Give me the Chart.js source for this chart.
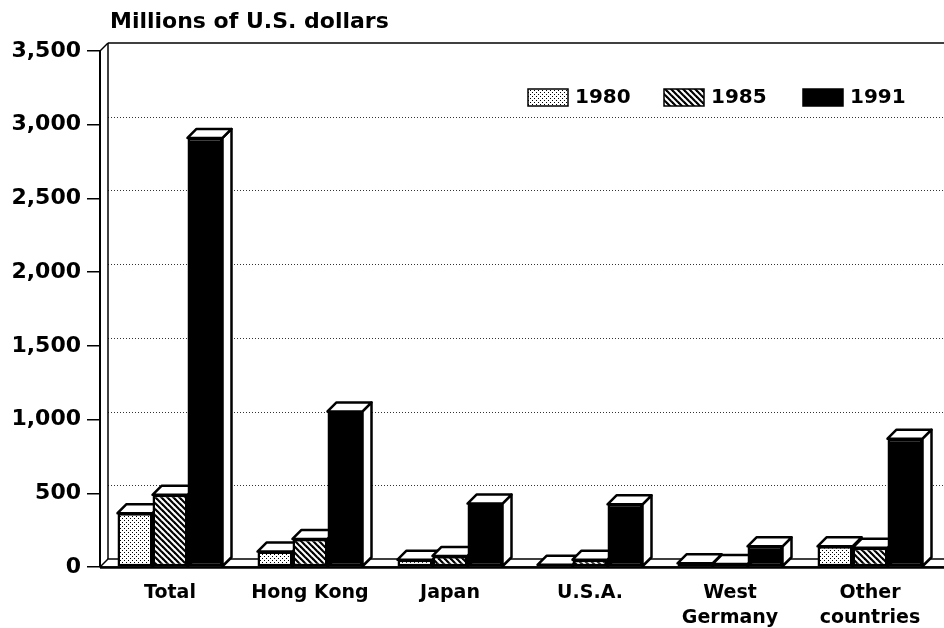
<!DOCTYPE html>
<html>
<head>
<meta charset="utf-8">
<style>
  html, body { margin: 0; padding: 0; background: #fff; }
  #wrap { width: 944px; height: 628px; position: relative; }
</style>
</head>
<body>
<div id="wrap"><canvas id="chart"></canvas></div>
<script src="https://cdn.jsdelivr.net/npm/chart.js@4.4.1/dist/chart.umd.min.js"></script>
<script>
// Data
const categories = ['Total', 'Hong Kong', 'Japan', 'U.S.A.', ['West', 'Germany'], ['Other', 'countries']];
const years = ['1980', '1985', '1991'];
const values1980 = [365, 105, 50, 15, 25, 140];
const values1985 = [490, 190, 75, 50, 20, 130];
const values1991 = [2910, 1055, 430, 425, 140, 870];
const yTicks = [0, 500, 1000, 1500, 2000, 2500, 3000, 3500];

const FONT = 'DejaVu Sans';
const DX = 9, DY = 9;   // bar depth
const WX = 8, WY = 8;   // wall / floor depth

// Fill patterns
function dotPattern() {
  const c = document.createElement('canvas'); c.width = 4; c.height = 4;
  const g = c.getContext('2d');
  g.fillStyle = '#fff'; g.fillRect(0, 0, 4, 4);
  g.fillStyle = '#000'; g.fillRect(0, 0, 1, 1); g.fillRect(2, 2, 1, 1);
  return g.createPattern(c, 'repeat');
}
function hatchPattern() {
  const s = 6;
  const c = document.createElement('canvas'); c.width = s; c.height = s;
  const g = c.getContext('2d');
  g.fillStyle = '#fff'; g.fillRect(0, 0, s, s);
  g.strokeStyle = '#000'; g.lineWidth = 2.2;
  for (let k = -1; k <= 1; k++) {
    g.beginPath(); g.moveTo(-2, -2 + k * s); g.lineTo(s + 2, s + 2 + k * s); g.stroke();
  }
  return g.createPattern(c, 'repeat');
}

const fills = [dotPattern(), hatchPattern(), '#000'];

function poly(ctx, pts, fill, lw) {
  ctx.beginPath();
  ctx.moveTo(pts[0][0], pts[0][1]);
  for (let k = 1; k < pts.length; k++) ctx.lineTo(pts[k][0], pts[k][1]);
  ctx.closePath();
  if (fill) { ctx.fillStyle = fill; ctx.fill(); }
  ctx.lineWidth = lw; ctx.strokeStyle = '#000'; ctx.lineJoin = 'round'; ctx.stroke();
}
function line(ctx, x0, y0, x1, y1) {
  ctx.beginPath(); ctx.moveTo(x0, y0); ctx.lineTo(x1, y1); ctx.stroke();
}

// Walls, floor, back gridlines, bar tops and sides
const threeD = {
  id: 'threeD',
  beforeDatasetsDraw(chart) {
    const { ctx, chartArea: a, scales: { y } } = chart;
    const W = chart.width;
    const top = y.getPixelForValue(yTicks[yTicks.length - 1]);
    const base = y.getPixelForValue(0);
    ctx.save();

    // dotted gridlines on the back wall
    ctx.strokeStyle = '#333'; ctx.lineWidth = 1; ctx.setLineDash([1, 2]);
    yTicks.slice(1, -1).forEach(v => {
      const py = Math.round(y.getPixelForValue(v) - WY) + 0.5;
      line(ctx, a.left + WX, py, W, py);
    });
    ctx.setLineDash([]);

    // back wall top + left wall
    ctx.strokeStyle = '#000'; ctx.lineWidth = 1.5;
    line(ctx, a.left + WX, top - WY, W, top - WY);
    line(ctx, a.left + WX, top - WY, a.left + WX, base - WY);
    line(ctx, a.left, top, a.left + WX, top - WY);
    ctx.lineWidth = 2;
    line(ctx, a.left, top, a.left, base);

    // floor
    poly(ctx, [[a.left, base], [a.left + WX, base - WY], [W + 5, base - WY], [W + 5, base]], '#fff', 1.5);
    ctx.lineWidth = 2.5;
    line(ctx, a.left, base + 0.5, W, base + 0.5);

    // bar tops and sides
    const n = chart.data.datasets.length;
    for (let j = 0; j < categories.length; j++) {
      for (let i = 0; i < n; i++) {
        const bar = chart.getDatasetMeta(i).data[j];
        const { x, y: yt, base: yb, width } = bar.getProps(['x', 'y', 'base', 'width'], true);
        const x0 = x - width / 2, x1 = x + width / 2;
        poly(ctx, [[x1, yt], [x1 + DX, yt - DY], [x1 + DX, yb - DY], [x1, yb]], '#fff', 2.5);
        poly(ctx, [[x0, yt], [x0 + DX, yt - DY], [x1 + DX, yt - DY], [x1, yt]], '#fff', 2.5);
      }
    }
    ctx.restore();
  },
  afterDraw(chart) {
    const { ctx } = chart;
    ctx.save();
    // axis title
    ctx.fillStyle = '#000';
    ctx.font = `bold 22px "${FONT}"`;
    ctx.textBaseline = 'middle';
    ctx.textAlign = 'left';
    ctx.fillText('Millions of U.S. dollars', 110, 22);

    // legend
    const legendX = [528, 664, 803];
    ctx.font = `bold 20px "${FONT}"`;
    chart.data.datasets.forEach((ds, i) => {
      const bx = legendX[i], by = 89;
      ctx.fillStyle = ds.backgroundColor;
      ctx.fillRect(bx, by, 40, 17);
      ctx.lineWidth = 1.5; ctx.strokeStyle = '#000';
      ctx.strokeRect(bx, by, 40, 17);
      ctx.fillStyle = '#000';
      ctx.fillText(ds.label, bx + 47, by + 9);
    });
    ctx.restore();
  }
};

const seriesValues = [values1980, values1985, values1991];

new Chart(document.getElementById('chart'), {
  type: 'bar',
  data: {
    labels: categories,
    datasets: years.map((yr, i) => ({
      label: yr,
      data: seriesValues[i],
      backgroundColor: fills[i],
      borderColor: '#000',
      borderWidth: 2.5,
      borderSkipped: false,
      categoryPercentage: 0.75,
      barPercentage: 1.0
    }))
  },
  options: {
    responsive: true, maintainAspectRatio: false,
    animation: false,
    layout: { padding: { top: 51, right: 4, left: 0, bottom: 0 } },
    plugins: { legend: { display: false }, tooltip: { enabled: false } },
    scales: {
      x: {
        grid: { display: false, drawTicks: false },
        border: { display: false },
        ticks: {
          padding: 14, color: '#000', maxRotation: 0, autoSkip: false,
          font: { family: FONT, weight: 'bold', size: 19, lineHeight: 1.3 }
        },
        afterFit: s => { s.height = 61; }
      },
      y: {
        min: 0, max: 3500,
        afterBuildTicks: s => { s.ticks = yTicks.map(v => ({ value: v })); },
        grid: { drawOnChartArea: false, drawTicks: true, tickLength: 13, color: '#000', lineWidth: 1.5 },
        border: { display: false },
        ticks: {
          padding: 6, color: '#000',
          font: { family: FONT, weight: 'bold', size: 22 },
          callback: v => Number(v).toLocaleString('en-US')
        },
        afterFit: s => { s.width = 100; }
      }
    }
  },
  plugins: [threeD]
});
</script>
</body>
</html>
